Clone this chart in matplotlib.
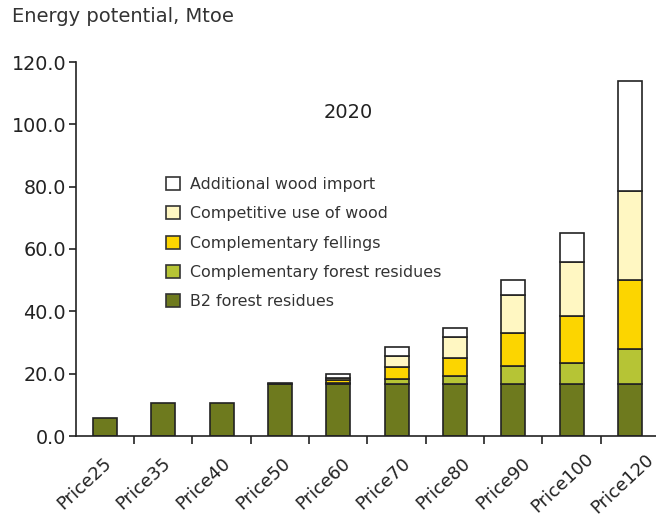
import matplotlib
matplotlib.use("Agg")
import matplotlib.pyplot as plt
import matplotlib.transforms as mtransforms
import numpy as np
from matplotlib.patches import Patch
from matplotlib.ticker import FixedLocator, FormatStrFormatter

# Energy potential by price scenario, 2020 (Mtoe)
categories = ["Price25", "Price35", "Price40", "Price50", "Price60",
              "Price70", "Price80", "Price90", "Price100", "Price120"]
b2_forest_residues = [5.7, 10.5, 10.5, 16.6, 16.6, 16.6, 16.6, 16.6, 16.6, 16.6]
compl_forest_residues = [0.0, 0.0, 0.0, 0.5, 0.4, 1.6, 2.6, 5.9, 6.9, 11.4]
compl_fellings = [0.0, 0.0, 0.0, 0.0, 1.0, 4.0, 5.9, 10.4, 15.1, 22.0]
competitive_use = [0.0, 0.0, 0.0, 0.0, 0.7, 3.5, 6.6, 12.3, 17.2, 28.7]
additional_import = [0.0, 0.0, 0.0, 0.0, 1.1, 2.9, 2.9, 4.8, 9.2, 35.3]

series = [
    ("B2 forest residues", b2_forest_residues, "#6e7a1e"),
    ("Complementary forest residues", compl_forest_residues, "#b6c435"),
    ("Complementary fellings", compl_fellings, "#fcd500"),
    ("Competitive use of wood", competitive_use, "#fff7c2"),
    ("Additional wood import", additional_import, "#ffffff"),
]

W, H = 656, 519
fig = plt.figure(figsize=(W / 100, H / 100), dpi=100)
ax = fig.add_axes([75.8 / W, (H - 436) / H, (W - 75.8) / W, (436 - 62) / H])

x = np.arange(len(categories))
bottom = np.zeros(len(categories))
for name, vals, color in series:
    v = np.array(vals)
    mask = v > 0
    ax.bar(x[mask], v[mask], bottom=bottom[mask], width=0.41, color=color,
           edgecolor="#222222", linewidth=1.2, zorder=2)
    bottom += v

ax.set_xlim(-0.5, 9.446)
ax.set_ylim(0, 120)

ax.spines["top"].set_visible(False)
ax.spines["right"].set_visible(False)
for s in ("left", "bottom"):
    ax.spines[s].set_color("#222222")
    ax.spines[s].set_linewidth(1.2)

ax.yaxis.set_major_locator(FixedLocator(np.arange(0, 121, 20)))
ax.yaxis.set_major_formatter(FormatStrFormatter("%.1f"))
ax.tick_params(axis="y", direction="out", length=5, width=1.2, pad=2,
               labelsize=13.8, colors="#222222")

# Category labels: rotated, centred below each bar, drifting slightly right
ax.set_xticks(x)
ax.set_xticklabels(categories, rotation=43, ha="center", va="center",
                   rotation_mode="anchor")
ax.set_xticks(np.arange(0.5, 9.5, 1.0), minor=True)
ax.tick_params(axis="x", which="major", length=0, pad=34, labelsize=13,
               colors="#222222")
ax.tick_params(axis="x", which="minor", direction="out", length=6, width=1.2,
               color="#222222")
for i, lab in enumerate(ax.get_xticklabels()):
    shift = mtransforms.ScaledTranslation((-21 + 1.5 * i) / 100, 0,
                                          fig.dpi_scale_trans)
    lab.set_transform(lab.get_transform() + shift)

fig.text(12 / W, 1 - 17 / H, "Energy potential, Mtoe", fontsize=14,
         color="#333333", ha="left", va="center")
ax.text(4.17, 103.9, "2020", fontsize=14, color="#222222",
        ha="center", va="center")

handles = [Patch(facecolor=c, edgecolor="#333333", linewidth=1.2, label=n)
           for n, _, c in reversed(series)]
fig.legend(handles=handles, loc="upper left",
           bbox_to_anchor=(166 / W, 1 - 177 / H),
           frameon=False, fontsize=11.4, labelspacing=0.9,
           handlelength=0.9, handleheight=0.9, handletextpad=0.6,
           borderpad=0, borderaxespad=0, labelcolor="#333333")

fig.savefig("out.png", dpi=100)
